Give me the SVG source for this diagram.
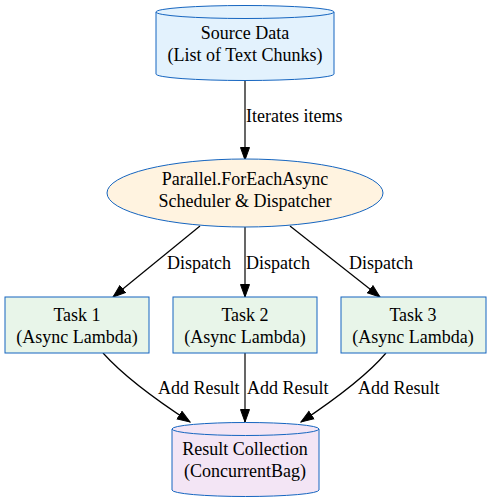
<svg xmlns="http://www.w3.org/2000/svg" width="491" height="503" viewBox="0 0 491 503" font-family="'Liberation Serif', 'Times New Roman', serif" font-size="18">
<style>
text{font-family:"Liberation Serif","Times New Roman",serif;font-size:18px;fill:#000}
.n{stroke:#1565c0;stroke-width:1}
.e{fill:none;stroke:#000;stroke-width:1.2}
.c{text-anchor:middle}
</style>
<defs>
<marker id="ah" markerUnits="userSpaceOnUse" markerWidth="14" markerHeight="11" refX="13" refY="5" orient="auto" viewBox="0 0 14 10">
<path d="M0.5,0.5 L13,5 L0.5,9.5 z" fill="#000" stroke="#000"/>
</marker>
</defs>
<rect width="491" height="503" fill="#fff"/>
<g id="connectors">
<path class="e" d="M245,80 L245,160" marker-end="url(#ah)"/>
<text x="246" y="122">Iterates items</text>
<path class="e" d="M200,226 L113,297" marker-end="url(#ah)"/>
<text x="167" y="269">Dispatch</text>
<path class="e" d="M245,227 L245,297" marker-end="url(#ah)"/>
<text x="246" y="269">Dispatch</text>
<path class="e" d="M290,226 L380,297" marker-end="url(#ah)"/>
<text x="349" y="269">Dispatch</text>
<path class="e" d="M103,353 C120,372 150,396 190,422" marker-end="url(#ah)"/>
<text x="158" y="394">Add Result</text>
<path class="e" d="M245,353 L245,422" marker-end="url(#ah)"/>
<text x="247" y="394">Add Result</text>
<path class="e" d="M386,353 C370,372 340,396 301,422" marker-end="url(#ah)"/>
<text x="358" y="394">Add Result</text>
</g>
<g id="source">
<path class="n" fill="#e3f2fd" d="M156,12 A89,6.5 0 0 1 334,12 L334,74 A89,6.5 0 0 1 156,74 Z"/>
<path class="n" fill="none" d="M156,12 A89,6.5 0 0 0 334,12"/>
<text class="c" x="245" y="38.5">Source Data</text>
<text class="c" x="245" y="60.5">(List of Text Chunks)</text>
</g>
<g id="scheduler">
<ellipse class="n" fill="#fff3e0" cx="245" cy="193" rx="138" ry="34"/>
<text class="c" x="245" y="184.5">Parallel.ForEachAsync</text>
<text class="c" x="245" y="207">Scheduler &amp; Dispatcher</text>
</g>
<g id="task1">
<rect class="n" fill="#e8f5e9" x="5" y="297" width="144" height="56"/>
<text class="c" x="77" y="321">Task 1</text>
<text class="c" x="77" y="343">(Async Lambda)</text>
</g>
<g id="task2">
<rect class="n" fill="#e8f5e9" x="173" y="297" width="144" height="56"/>
<text class="c" x="245" y="321">Task 2</text>
<text class="c" x="245" y="343">(Async Lambda)</text>
</g>
<g id="task3">
<rect class="n" fill="#e8f5e9" x="341" y="297" width="145" height="56"/>
<text class="c" x="413" y="321">Task 3</text>
<text class="c" x="413" y="343">(Async Lambda)</text>
</g>
<g id="result">
<path class="n" fill="#f3e5f5" d="M172,429 A73.5,6.5 0 0 1 319,429 L319,490 A73.5,6.5 0 0 1 172,490 Z"/>
<path class="n" fill="none" d="M172,429 A73.5,6.5 0 0 0 319,429"/>
<text class="c" x="245" y="455">Result Collection</text>
<text class="c" x="245" y="477">(ConcurrentBag)</text>
</g>
</svg>
